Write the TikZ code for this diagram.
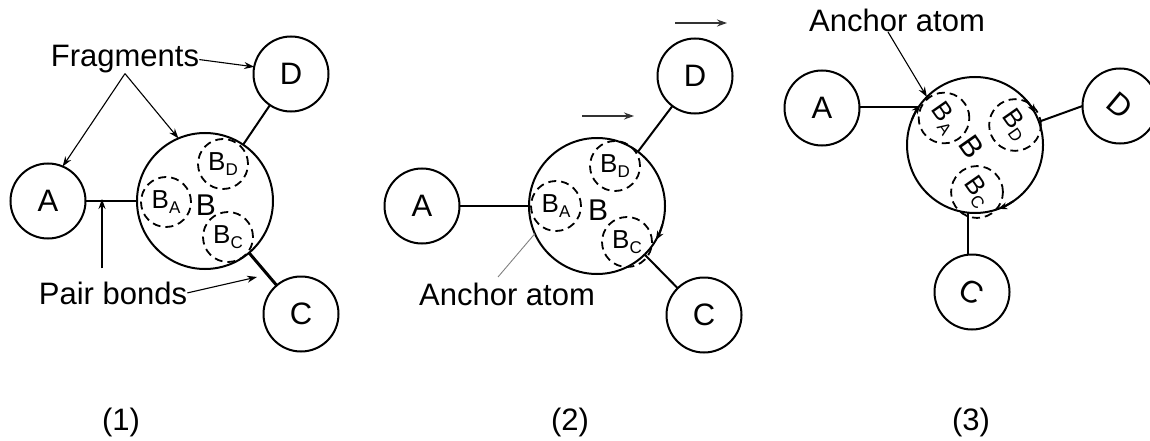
\documentclass[tikz,border=0pt]{standalone}
\usepackage{fontspec}
\setmainfont{Liberation Sans}
\usetikzlibrary{arrows.meta}
% letter with a lowered, smaller index
\newcommand{\subx}[2]{#1\raisebox{-5pt}{\fontsize{17}{17}\selectfont #2}}

\begin{document}
\begin{tikzpicture}[x=1pt,y=-1pt,
  frag/.style={circle,draw,line width=2pt,minimum size=75pt,inner sep=0pt,outer sep=0pt,
    font=\fontsize{31}{31}\selectfont},
  core/.style={circle,draw,line width=2pt,minimum size=136pt,inner sep=0pt,outer sep=0pt},
  corelabel/.style={inner sep=0pt,font=\fontsize{30}{30}\selectfont},
  site/.style={circle,draw,dash pattern=on 8pt off 5pt,line width=1.8pt,minimum size=50pt,
    inner sep=0pt,outer sep=0pt,font=\fontsize{26}{26}\selectfont},
  bond/.style={line width=2pt},
  note/.style={inner sep=0pt,font=\fontsize{31}{31}\selectfont},
  pointer/.style={line width=1.1pt,-{Stealth[length=10pt,width=7pt]}},
  move/.style={line width=1.4pt,black!80,-{Stealth[length=10pt,width=7pt]}},
  turn/.style={line width=2pt,-{Stealth[length=9pt,width=7pt]}}
]
\useasboundingbox (0,0) rectangle (1150,441);

% ---------- (1) fragments and pair bonds ----------
\node[core] (B1) at (205,201) {};
\node[corelabel] (b1) at (206,205) {B};
\node[site] (BA1) at (166,202) {\subx{B}{A}};
\node[site] (BD1) at (223,164) {\subx{B}{D}};
\node[site] (BC1) at (228,237) {\subx{B}{C}};
\node[frag] (A1) at (48,201) {A};
\node[frag] (D1) at (291,74) {D};
\node[frag] (C1) at (301,314) {C};
\draw[bond] (A1) -- (B1);
\draw[bond] (D1) -- (B1);
\draw[bond,line width=3pt] (C1) -- (B1);

\node[note,anchor=base] (fragtxt) at (125,67) {Fragments};
\draw[pointer] (fragtxt.south) -- (A1.67);
\draw[pointer] (fragtxt.south) -- (B1.113);
\draw[pointer] (fragtxt.east) -- (D1.169);

\node[note,anchor=base] (pairtxt) at (113,304) {Pair bonds};
\coordinate (pbA) at (102,199);
\coordinate (pbC) at (257,277);
\draw[pointer] ([yshift=13pt]pairtxt.north -| pbA) -- (pbA);
\draw[pointer] (pairtxt.east) -- (pbC);

\node[note] (n1) at (121,422) {(1)};

% ---------- (2) anchor atom and translation ----------
\node[core] (B2) at (597,206) {};
\node[corelabel] (b2) at (598,210) {B};
\node[site] (BA2) at (556,206) {\subx{B}{A}};
\node[site] (BD2) at (615,166) {\subx{B}{D}};
\node[site] (BC2) at (627,242) {\subx{B}{C}};
\node[frag] (A2) at (422,206) {A};
\node[frag] (D2) at (695,76) {D};
\node[frag] (C2) at (704,315) {C};
\draw[bond] (A2) -- (B2);
\draw[bond] (D2) -- (B2);
\draw[bond] (C2) -- (B2);
\draw[turn] (B2.-16) arc[start angle=-16, end angle=-30, radius=68pt];

\coordinate (mv1s) at (675,23);
\coordinate (mv1e) at (727,23);
\coordinate (mv2s) at (582,116);
\coordinate (mv2e) at (634,116);
\draw[move] (mv1s) -- (mv1e);
\draw[move] (mv2s) -- (mv2e);

\node[note,anchor=base] (anc2) at (507,305) {Anchor atom};
\coordinate (anc2tail) at (498,277);
\draw[gray,line width=0.9pt] (anc2tail) -- (B2.204);

\node[note] (n2) at (570,422) {(2)};

% ---------- (3) rotation about the anchor atom ----------
\node[core] (B3) at (975,145) {};
\node[corelabel,rotate=-55] (b3) at (972,147) {B};
\node[site] (BA3) at (944,118) {\rotatebox{-55}{\subx{B}{A}}};
\node[site] (BD3) at (1015,125) {\rotatebox{-55}{\subx{B}{D}}};
\node[site] (BC3) at (977,192) {\rotatebox{-55}{\subx{B}{C}}};
\node[frag] (A3) at (822,108) {A};
\node[frag] (D3) at (1120,106) {\rotatebox{-40}{D}};
\node[frag] (C3) at (972,292) {\rotatebox{-30}{C}};
\draw[bond] (B3.146) -- (B3.146 -| A3.east);
\draw[bond] (D3.west) -- (B3.20);
\draw[bond] (B3.264) -- (B3.264 |- C3.north);
\draw[turn] (B3.42) arc[start angle=42, end angle=28, radius=68pt];
\draw[turn] (B3.-56) arc[start angle=-56, end angle=-70, radius=68pt];
\draw[turn] (B3.158) arc[start angle=158, end angle=144, radius=68pt];

\node[note,anchor=base] (anc3) at (897,32) {Anchor atom};
\draw[pointer] ([xshift=-9pt]anc3.base) -- (B3.135);

\node[note] (n3) at (971,422) {(3)};
\end{tikzpicture}
\end{document}
